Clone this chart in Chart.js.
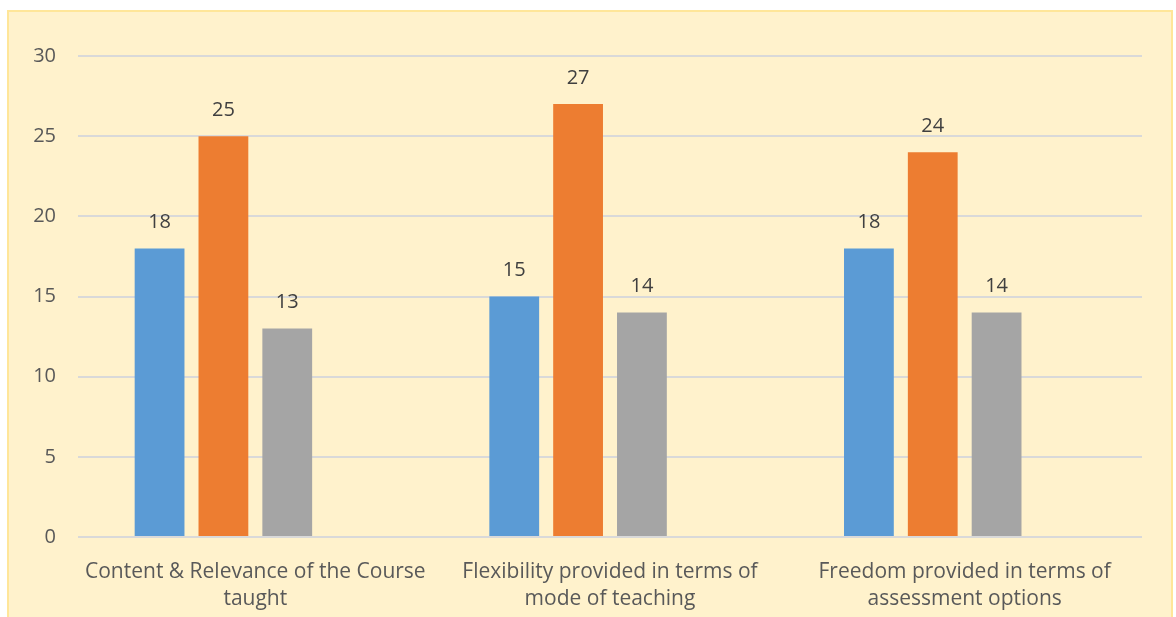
<!DOCTYPE html>
<html>
<head>
<meta charset="utf-8">
<script src="https://cdn.jsdelivr.net/npm/chart.js@4"></script>
<style>
  html, body { margin: 0; padding: 0; background: #ffffff; }
  #frame { position: absolute; left: 7px; top: 10px; width: 1166px; height: 620px; background: #FFF2CC; border: 2px solid #FFE699; box-sizing: border-box; }
  #wrap { position: absolute; left: 0; top: 0; width: 1176px; height: 617px; }
</style>
</head>
<body>
<div id="frame"></div>
<div id="wrap"><canvas id="chart"></canvas></div>
<script>
// Categories and series
const categories = [
  ['Content & Relevance of the Course', 'taught'],
  ['Flexibility provided in terms of', 'mode of teaching'],
  ['Freedom provided in terms of', 'assessment options']
];
const seriesA = [18, 15, 18];
const seriesB = [25, 27, 24];
const seriesC = [13, 14, 14];
const seriesD = [null, null, null]; // empty fourth slot in each group
const yTicks = [0, 5, 10, 15, 20, 25, 30];

const textColor = '#595959';
const fontFamily = '"Open Sans", Lato, sans-serif';

// Value labels above bars
const barLabels = {
  id: 'barLabels',
  afterDatasetsDraw(chart) {
    const ctx = chart.ctx;
    ctx.save();
    ctx.font = '20px ' + fontFamily;
    ctx.fillStyle = '#404040';
    ctx.textAlign = 'center';
    ctx.textBaseline = 'middle';
    chart.data.datasets.forEach((ds, i) => {
      const meta = chart.getDatasetMeta(i);
      meta.data.forEach((bar, j) => {
        const v = ds.data[j];
        if (v == null) return;
        ctx.fillText(String(v), bar.x, bar.y - 26);
      });
    });
    ctx.restore();
  }
};

const ctx = document.getElementById('chart').getContext('2d');
new Chart(ctx, {
  type: 'bar',
  data: {
    labels: categories,
    datasets: [
      { label: 'A', data: seriesA, backgroundColor: '#5B9BD5' },
      { label: 'B', data: seriesB, backgroundColor: '#ED7D31' },
      { label: 'C', data: seriesC, backgroundColor: '#A5A5A5' },
      { label: 'D', data: seriesD, backgroundColor: '#FFC000' }
    ]
  },
  options: {
    responsive: true,
    maintainAspectRatio: false,
    animation: false,
    layout: { padding: { top: 56, right: 34, bottom: 7, left: 0 } },
    datasets: { bar: { categoryPercentage: 0.72, barPercentage: 0.78 } },
    plugins: { legend: { display: false }, tooltip: { enabled: false } },
    scales: {
      x: {
        grid: { display: false, drawTicks: false },
        border: { display: false },
        ticks: { color: textColor, font: { family: fontFamily, size: 21, lineHeight: 1.29 }, padding: 21, maxRotation: 0 },
        afterFit(axis) { axis.height = 73; }
      },
      y: {
        min: 0,
        max: 30,
        afterBuildTicks(axis) { axis.ticks = yTicks.map(v => ({ value: v })); },
        grid: { color: '#D9D9D9', lineWidth: 2, drawTicks: false },
        border: { display: false },
        ticks: { color: textColor, font: { family: fontFamily, size: 20 }, padding: 22 },
        afterFit(axis) { axis.width = 78; }
      }
    }
  },
  plugins: [barLabels]
});
</script>
</body>
</html>
